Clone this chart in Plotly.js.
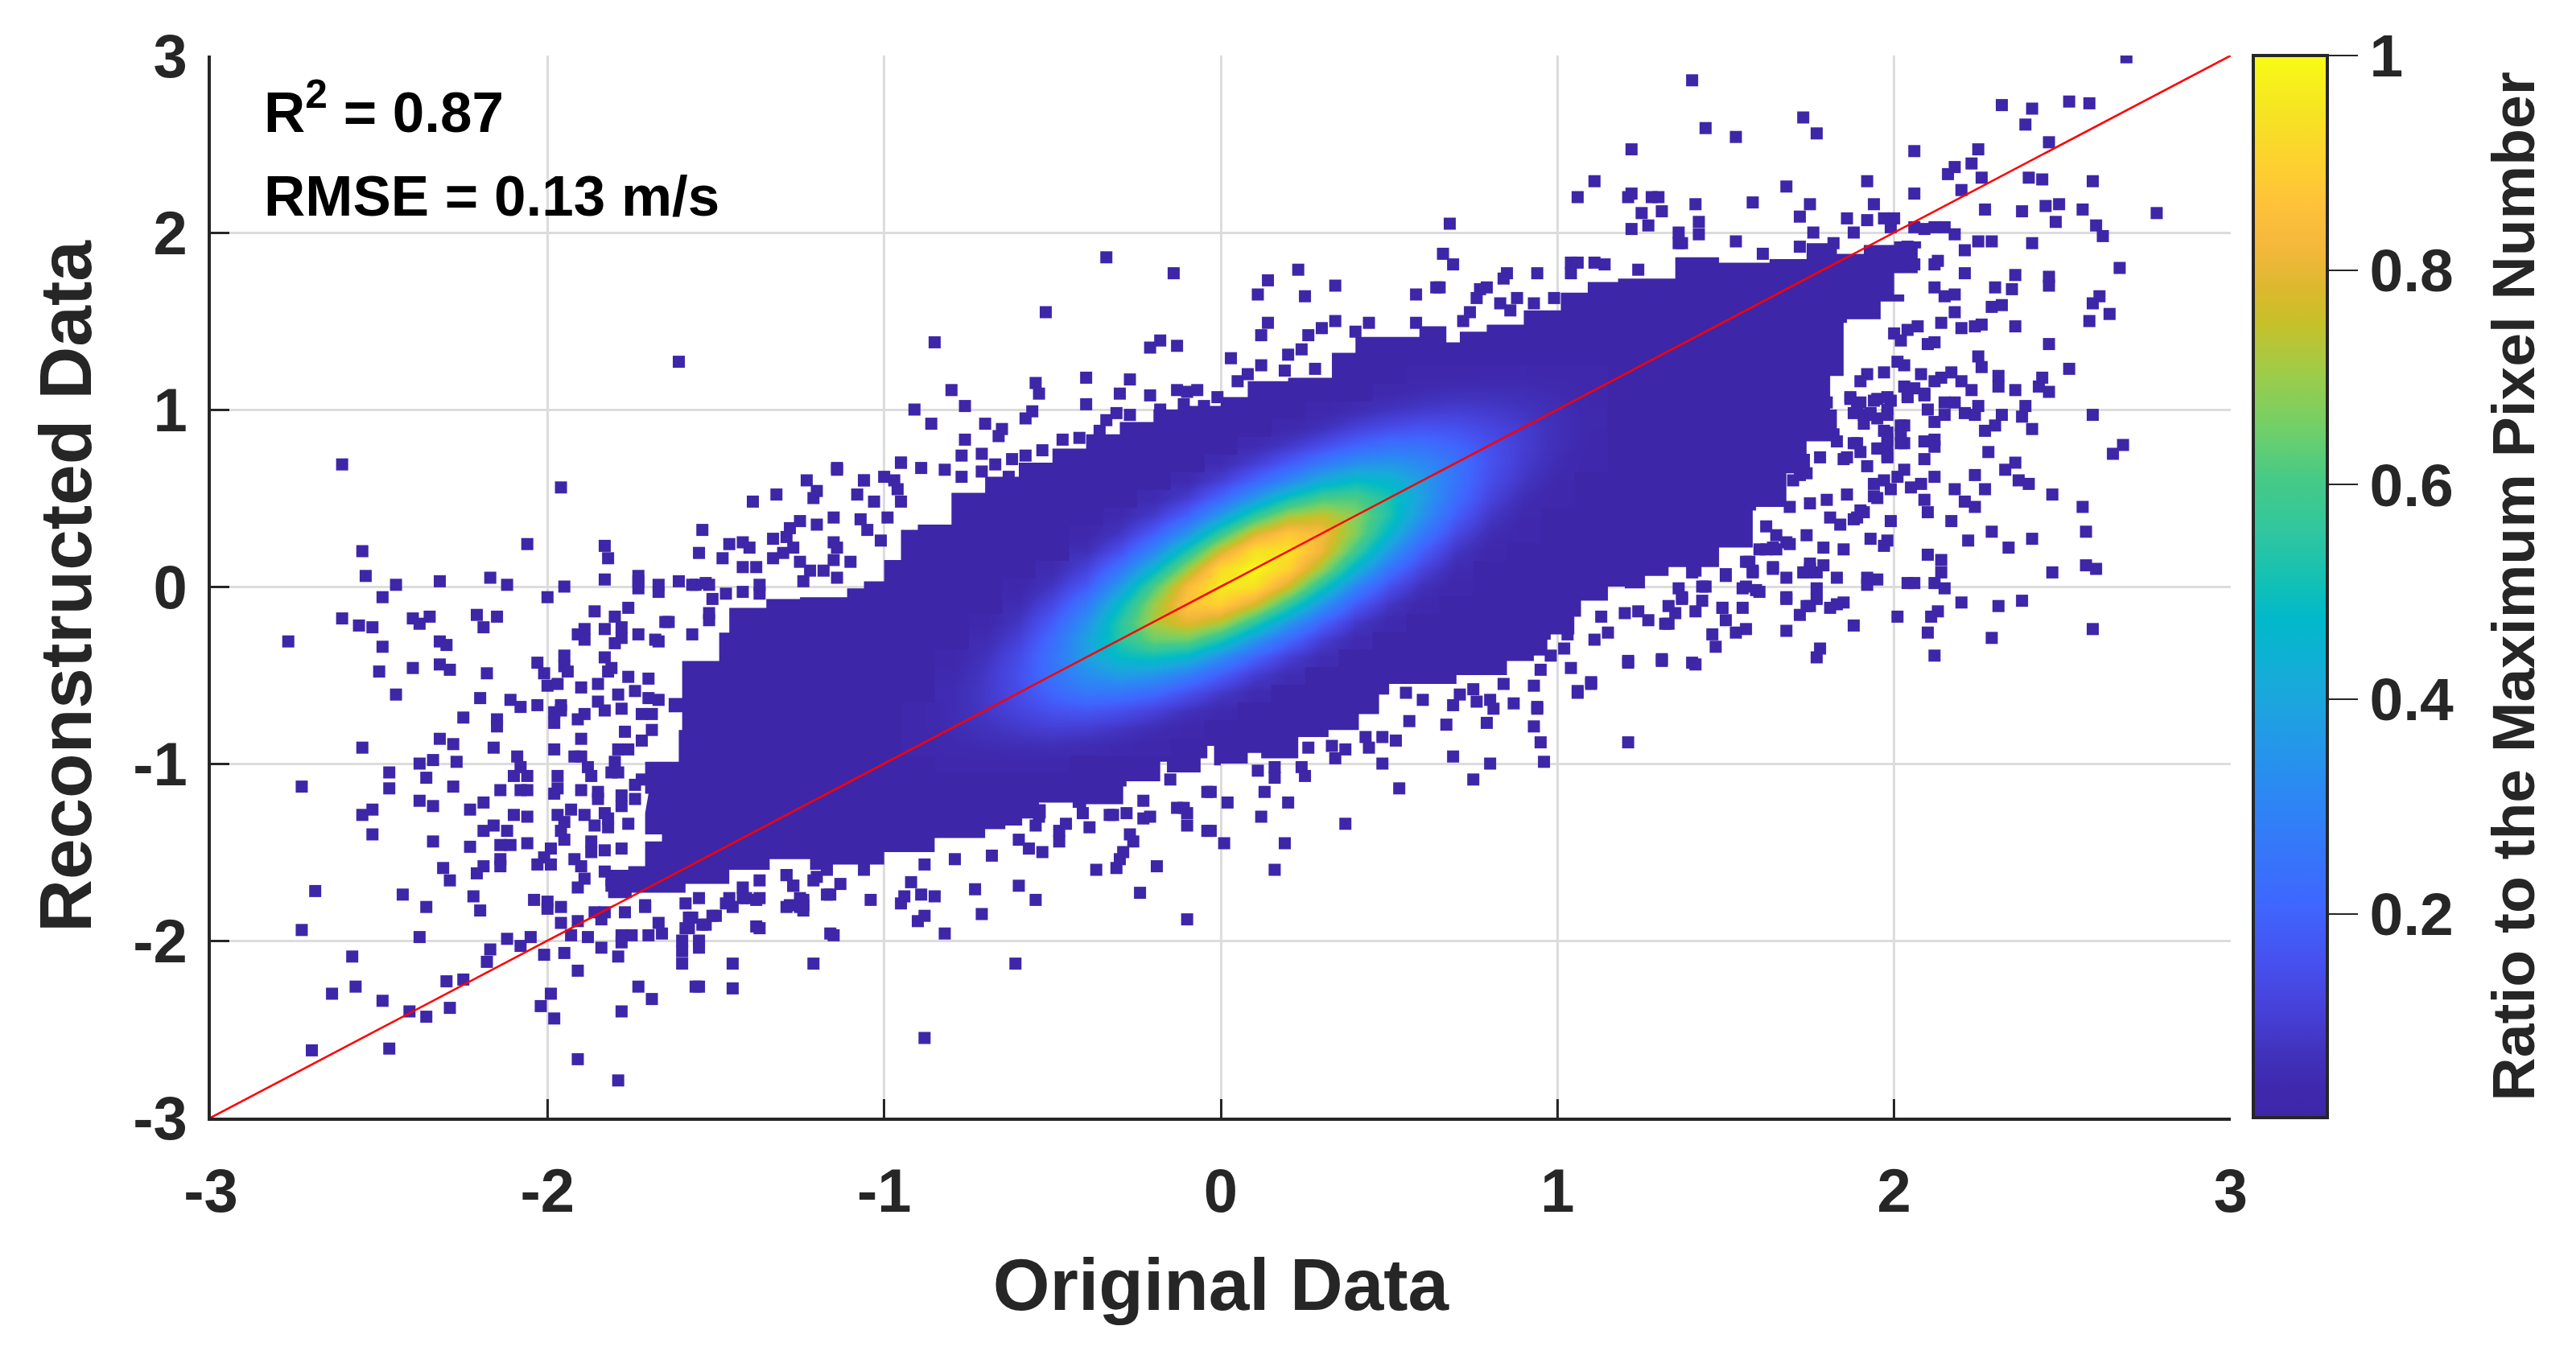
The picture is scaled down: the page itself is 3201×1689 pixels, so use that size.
<!DOCTYPE html>
<html><head><meta charset="utf-8">
<script src="https://cdn.plot.ly/plotly-3.0.1.min.js"></script>
<style>html,body{margin:0;padding:0;background:#fff}</style></head>
<body><div id="chart" style="width:3201px;height:1689px"></div>
<script>
const _ = null;
const axisTicks = [-3,-2,-1,0,1,2,3];
const axisTickText = ["-3","-2","-1","0","1","2","3"];
const colorbarTicks = [0.2,0.4,0.6,0.8,1];
const colorbarTickText = ["0.2","0.4","0.6","0.8","1"];
const oneToOneLine = [-3,3];

// Density, one column per x, bottom to top in y.
const densityX = [-0.9,-0.8,-0.7,-0.6,-0.5,-0.4,-0.3,-0.2,-0.1,0,0.1,0.2,0.3,0.4,0.5,0.6,0.7,0.8,0.9,1.0,1.1];
const densityY = [-1.0,-0.9,-0.8,-0.7,-0.6,-0.5,-0.4,-0.3,-0.2,-0.1,0,0.1,0.2,0.3,0.4,0.5,0.6,0.7,0.8,0.9,1.0,1.1,1.2];
const densityColumns = [
[_,.03,.03,.03,_,_,_,_,_,_,_,_,_,_,_,_,_,_,_,_,_,_,_],
[.03,.04,.05,.05,.05,.04,.03,_,_,_,_,_,_,_,_,_,_,_,_,_,_,_,_],
[.03,.05,.07,.085,.09,.085,.07,.05,.03,_,_,_,_,_,_,_,_,_,_,_,_,_,_],
[.03,.055,.09,.12,.14,.15,.14,.11,.08,.05,.03,_,_,_,_,_,_,_,_,_,_,_,_],
[.03,.06,.105,.155,.21,.245,.25,.23,.185,.13,.08,.045,_,_,_,_,_,_,_,_,_,_,_],
[_,.05,.10,.17,.26,.33,.38,.385,.34,.27,.18,.115,.06,.03,_,_,_,_,_,_,_,_,_],
[_,.04,.08,.15,.255,.37,.48,.545,.545,.48,.37,.255,.15,.08,.04,_,_,_,_,_,_,_,_],
[_,.025,.055,.115,.22,.35,.50,.645,.72,.70,.61,.46,.31,.185,.095,.045,_,_,_,_,_,_,_],
[_,_,.03,.07,.155,.28,.455,.645,.80,.875,.84,.70,.53,.35,.20,.10,.045,_,_,_,_,_,_],
[_,_,_,.04,.09,.185,.33,.53,.735,.90,.97,.925,.77,.57,.37,.21,.105,.047,_,_,_,_,_],
[_,_,_,_,.044,.10,.20,.36,.56,.775,.94,1,.94,.775,.56,.36,.20,.10,.044,_,_,_,_],
[_,_,_,_,_,.05,.105,.215,.37,.57,.765,.905,.95,.875,.71,.505,.31,.175,.085,.035,_,_,_],
[_,_,_,_,_,_,.048,.105,.205,.35,.525,.70,.81,.835,.755,.60,.42,.26,.14,.065,.028,_,_],
[_,_,_,_,_,_,_,.043,.09,.18,.30,.45,.585,.67,.68,.61,.48,.33,.20,.11,.05,_,_],
[_,_,_,_,_,_,_,_,.037,.08,.15,.25,.36,.46,.525,.52,.455,.35,.24,.14,.075,.035,_],
[_,_,_,_,_,_,_,_,_,.03,.065,.12,.19,.27,.345,.38,.37,.315,.24,.16,.09,.05,.025],
[_,_,_,_,_,_,_,_,_,_,.025,.045,.08,.13,.185,.23,.25,.245,.205,.15,.10,.06,.03],
[_,_,_,_,_,_,_,_,_,_,_,_,.03,.055,.085,.12,.145,.157,.15,.125,.09,.06,.033],
[_,_,_,_,_,_,_,_,_,_,_,_,_,.025,.035,.055,.08,.095,.10,.095,.075,.055,.035],
[_,_,_,_,_,_,_,_,_,_,_,_,_,_,_,.025,.035,.05,.06,.06,.055,.045,.03],
[_,_,_,_,_,_,_,_,_,_,_,_,_,_,_,_,_,.025,.03,.035,.035,.03,.03]
];

// Outline of the solid mass of points.
const massOutlineUpper = [[-1.70,-1.17],[-1.71,-.99],[-1.61,-.81],[-1.6,-.71],[-1.64,-.63],[-1.6,-.42],[-1.49,-.26],[-1.46,-.12],[-1.35,-.07],[-1.25,-.06],[-1.11,-.01],[-1.06,.03],[-1,.15],[-.95,.32],[-.9,.35],[-.8,.53],[-.7,.62],[-.6,.7],[-.5,.78],[-.4,.86],[-.3,.93],[-.2,1.0],[-.1,1.02],[0,1.07],[.08,1.16],[.2,1.18],[.33,1.32],[.4,1.41],[.55,1.41],[.59,1.47],[.67,1.38],[.71,1.44],[.79,1.48],[.9,1.56],[1.01,1.66],[1.09,1.72],[1.18,1.74],[1.35,1.86],[1.48,1.83],[1.63,1.85],[1.74,1.94],[1.83,1.88],[1.91,1.93],[2.0,1.95],[2.08,1.91]];
const massOutlineRight = [[2.07,1.77],[2.0,1.65],[2.03,1.61],[1.96,1.51],[1.86,1.49],[1.85,1.33],[1.85,1.19],[1.81,1.0],[1.83,.82],[1.74,.75],[1.75,.64],[1.68,.57],[1.68,.45],[1.59,.43],[1.58,.22],[1.49,.22],[1.48,.11],[1.38,.11],[1.33,.06],[1.26,-.01],[1.2,0],[1.15,-.08],[1.07,-.17],[1.05,-.27],[.98,-.3],[.97,-.39],[.93,-.42],[.85,-.5],[.7,-.55],[.55,-.55]];
const massOutlineLower = [[.5,-.61],[.47,-.72],[.41,-.81],[.32,-.85],[.23,-.97],[.12,-.94],[.08,-1.0],[0,-1.01],[-.02,-.9],[-.04,-.97],[-.06,-1.05],[-.16,-.99],[-.18,-1.1],[-.28,-1.13],[-.29,-1.23],[-.4,-1.25],[-.44,-1.22],[-.54,-1.23],[-.52,-1.31],[-.59,-1.35],[-.64,-1.37],[-.7,-1.42],[-.85,-1.5],[-1,-1.57],[-1.17,-1.6],[-1.22,-1.54],[-1.34,-1.6],[-1.46,-1.68],[-1.59,-1.73],[-1.75,-1.76],[-1.82,-1.6],[-1.76,-1.58],[-1.71,-1.44],[-1.66,-1.4],[-1.71,-1.28]];

// Single points outside the solid mass.
const pointsLowerLeft = [[-2.54,.06],[-2.45,.01],[-2.32,.03],[-2.17,.05],[-2.12,.01],[-2.49,-.06],[-2.0,-.06],[-1.95,0],[-1.83,.04],[-1.73,.03],[-1.73,.06],[-1.73,-.01],[-1.67,.01],[-1.67,-.03],[-1.61,.03],[-1.57,.01],[-1.53,.02],[-2.61,-.18],[-2.56,-.22],[-2.52,-.23],[-2.40,-.18],[-2.35,-.17],[-2.38,-.21],[-2.21,-.16],[-2.15,-.17],[-2.19,-.23],[-2.77,-.31],[-2.49,-.34],[-2.32,-.31],[-2.30,-.33],[-2.50,-.48],[-2.40,-.46],[-2.32,-.44],[-2.29,-.47],[-2.18,-.49],[-2.45,-.61],[-2.2,-.63],[-2.11,-.64],[-2.08,-.68],[-2.03,-.67],[-2.25,-.74],[-2.15,-.75],[-2.15,-.79],[-2.32,-.86],[-2.28,-.89],[-2.16,-.91],[-2.55,-.91],[-1.98,-.92],[-1.90,-.86],[-2.34,-.98],[-2.38,-1.0],[-2.27,-.99],[-2.47,-1.05],[-2.36,-1.08],[-2.73,-1.13],[-2.47,-1.14],[-2.28,-1.13],[-2.38,-1.21],[-2.34,-1.24],[-2.19,-1.22],[-2.23,-1.26],[-2.14,-1.15],[-2.52,-1.26],[-2.55,-1.29],[-2.10,-1.29],[-2.06,-1.30],[-2.52,-1.40],[-2.16,-1.35],[-2.19,-1.38],[-2.12,-1.38],[-2.34,-1.44],[-2.23,-1.47],[-2.06,-1.45],[-2.14,-1.46],[-2.11,-1.46],[-2.14,-1.54],[-2.14,-1.58],[-2.31,-1.59],[-2.29,-1.66],[-2.19,-1.58],[-2.21,-1.62],[-2.69,-1.72],[-2.43,-1.74],[-2.36,-1.81],[-2.22,-1.75],[-2.2,-1.83],[-2.04,-1.77],[-2.0,-1.78],[-2.73,-1.94],[-2.38,-1.98],[-2.12,-1.99],[-2.08,-2.03],[-2.05,-1.98],[-2.58,-2.09],[-2.17,-2.05],[-2.18,-2.12],[-2.01,-2.08],[-1.95,-2.07],[-1.79,-2.09],[-1.91,-2.17],[-2.57,-2.26],[-2.64,-2.3],[-2.3,-2.23],[-2.25,-2.22],[-2.49,-2.34],[-2.41,-2.4],[-2.36,-2.43],[-2.29,-2.38],[-1.99,-2.3],[-2.02,-2.37],[-1.98,-2.44],[-1.78,-2.4],[-1.73,-2.26],[-1.69,-2.33],[-1.55,-2.26],[-1.45,-2.27],[-1.6,-2.13],[-1.45,-2.13],[-1.21,-2.13],[-2.7,-2.62],[-2.47,-2.61],[-1.91,-2.67],[-1.79,-2.79],[-1.37,-1.93],[-1.15,-1.97],[-1.16,-1.74],[-.88,-2.55]];
const pointsLeftEdge = [[-2,-1.82],[-1.96,-1.81],[-1.96,-1.9],[-1.91,-1.89],[-1.93,-1.97],[-1.88,-1.98],[-1.84,-2.04],[-1.86,-1.84],[-1.83,-1.84],[-1.84,-1.88],[-1.78,-2.01],[-1.75,-1.97],[-1.78,-1.97],[-1.77,-1.84],[-1.7,-1.97],[-1.67,-1.9],[-1.66,-1.96],[-1.6,-2.0],[-1.6,-2.06],[-1.55,-2.0],[-1.55,-2.04],[-1.57,-1.87],[-1.58,-1.93],[-1.53,-1.91],[-1.5,-1.86],[-1.71,-1.8],[-1.45,-1.81],[-1.46,-1.76],[-1.41,-1.76],[-1.37,-1.76],[-1.28,-1.8],[-1.24,-1.8],[-1.24,-1.83],[-1.24,-1.77],[-1.27,-1.69],[-1.29,-1.63],[-1.2,-1.64],[-2.09,-.96],[-2.08,-1.02],[-2.10,-1.07],[-2.06,-1.07],[-2.08,-1.15],[-2.06,-1.15],[-1.97,-1.07],[-1.98,-1.17],[-1.97,-1.14],[-1.92,-.96],[-1.9,-.96],[-1.88,-1.02],[-1.87,-1.07],[-1.9,-1.15],[-1.85,-1.16],[-1.85,-1.2],[-1.79,-1.05],[-1.81,-1.05],[-1.8,-.99],[-1.78,-1.18],[-1.78,-1.24],[-1.74,-1.12],[-1.74,-1.2],[-1.72,-1.09],[-1.97,-1.29],[-1.93,-1.26],[-1.89,-1.29],[-1.95,-1.33],[-1.96,-1.38],[-1.95,-1.43],[-1.86,-1.35],[-1.82,-1.36],[-1.83,-1.28],[-1.82,-1.31],[-1.76,-1.34],[-1.87,-1.44],[-1.87,-1.5],[-1.83,-1.49],[-1.78,-1.48],[-1.99,-1.48],[-2.01,-1.53],[-2.03,-1.57],[-1.99,-1.57],[-1.92,-1.54],[-1.9,-1.58],[-1.83,-1.61],[-1.81,-1.66],[-1.79,-1.72],[-1.81,-1.69],[-1.89,-1.65],[-1.91,-1.7],[-1.86,-.14],[-1.8,-.17],[-1.76,-.12],[-1.64,-.2],[-1.89,-.24],[-1.91,-.27],[-1.89,-.3],[-1.83,-.24],[-1.78,-.23],[-1.78,-.29],[-1.73,-.27],[-1.8,-.32],[-1.67,-.31],[-1.95,-.39],[-1.95,-.45],[-1.94,-.48],[-2.03,-.43],[-2.01,-.49],[-2.0,-.56],[-1.97,-.55],[-1.83,-.4],[-1.81,-.46],[-1.82,-.48],[-1.76,-.51],[-1.7,-.52],[-1.9,-.57],[-1.85,-.55],[-1.79,-.61],[-1.74,-.59],[-1.7,-.63],[-1.67,-.64],[-1.96,-.67],[-1.98,-.71],[-1.98,-.77],[-1.96,-.7],[-1.89,-.72],[-1.91,-.75],[-1.85,-.65],[-1.83,-.7],[-1.78,-.69],[-1.72,-.72],[-1.69,-.72],[-1.77,-.82],[-1.72,-.87],[-1.69,-.81],[-1.79,-.92],[-1.76,-.92],[-1.57,-.27],[-1.52,-.19],[-1.52,-.15],[-1.65,-.2],[-1.68,-.3]];
const pointsUpperLeft = [[-2.61,.69],[-1.61,1.27],[-1.96,.56],[-2.55,.20],[-2.06,.24],[-1.83,.23],[-1.82,.16],[-1.54,.32],[-1.55,.19],[-1.46,.24],[-1.48,.16],[-1.42,.25],[-1.4,.22],[-1.33,.27],[-1.3,.19],[-1.33,.16],[-1.42,.11],[-1.38,.11],[-1.39,.48],[-1.32,.52],[-1.23,.6],[-1.2,.54],[-1.21,.5],[-1.14,.67],[-1.06,.6],[-1.08,.52],[-1.03,.48],[-.95,.7],[-1,.62],[-.97,.6],[-.96,.55],[-.95,.48],[-1.25,.37],[-1.2,.35],[-1.15,.39],[-1.28,.33],[-1.29,.28],[-1.27,.22],[-1.07,.38],[-1.05,.32],[-1.01,.26],[-.99,.39],[-1.15,.25],[-1.14,.22],[-1.15,.15],[-1.25,.14],[-1.22,.09],[-1.24,.03],[-1.1,.14],[-1.18,.09],[-1.14,.05],[-1.37,.01],[-1.37,-.04],[-1.42,-.03],[-1.47,-.04],[-1.51,-.07],[-1.52,.01],[-1.56,.01],[-.34,1.86],[-.14,1.77],[-.52,1.55],[-.85,1.38],[-.18,1.39],[-.21,1.35],[-.13,1.36],[.23,1.79],[.14,1.73],[.11,1.65],[.25,1.64],[.34,1.7],[.58,1.65],[.64,1.69],[.14,1.49],[.12,1.42],[.34,1.5],[.3,1.46],[.26,1.42],[.44,1.49],[.58,1.49],[.4,1.44],[.24,1.34],[.2,1.31],[.03,1.29],[.12,1.25],[.28,1.23],[.19,1.22],[.08,1.2],[.05,1.16],[-.4,1.18],[-.27,1.17],[-.55,1.15],[-.54,1.09],[-.8,1.11],[-.3,1.09],[-.21,1.08],[-.13,1.11],[-.1,1.1],[-.07,1.11],[-.01,1.07],[-.91,1],[-.76,1.02],[-.4,1.03],[-.56,.99],[-.58,.95],[-.86,.92],[-.7,.92],[-.65,.89],[-.66,.85],[-.76,.83],[-.77,.74],[-.71,.75],[-.95,.7],[-.89,.67],[-.82,.66],[-1.14,.66],[-1.06,.6],[-.77,.62],[-.67,.69],[-.71,.65],[-.62,.72],[-.58,.74],[-.53,.77],[-.52,.65],[-.63,.62],[-.18,1],[-.11,1.03],[-.05,1.02],[-.31,.98],[-.27,.97],[-.34,.94],[-.36,.88],[-.25,.88],[-.47,.83],[-.42,.84]];
const pointsUpperMiddle = [[1.11,2.29],[1.06,2.2],[.68,2.05],[.66,1.88],[.69,1.82],[.65,1.69],[.94,1.77],[.85,1.77],[.84,1.74],[1.04,1.83],[1.06,1.83],[1.04,1.77],[1.11,1.83],[1.14,1.82],[.79,1.69],[.77,1.68],[.76,1.63],[.83,1.6],[.88,1.63],[.86,1.56],[.93,1.6],[.99,1.63],[.74,1.55],[.72,1.5],[1.24,1.79],[1.36,1.94]];
const pointsUpperRight = [[1.40,2.86],[1.44,2.59],[1.53,2.54],[1.22,2.47],[1.73,2.65],[1.77,2.56],[2.69,2.99],[2.32,2.72],[2.41,2.70],[2.52,2.74],[2.58,2.73],[2.39,2.61],[2.46,2.51],[2.06,2.46],[2.25,2.47],[2.23,2.39],[2.18,2.37],[2.16,2.33],[2.26,2.31],[2.4,2.31],[2.44,2.3],[2.59,2.29],[1.92,2.29],[1.68,2.26],[2.06,2.22],[2.2,2.24],[1.22,2.22],[1.21,2.2],[1.28,2.2],[1.3,2.2],[1.58,2.17],[1.41,2.16],[1.75,2.16],[1.94,2.16],[1.31,2.12],[1.25,2.11],[2.27,2.13],[2.38,2.12],[2.45,2.15],[2.49,2.16],[2.56,2.13],[2.78,2.11],[1.72,2.09],[1.86,2.08],[1.92,2.07],[1.97,2.08],[2,2.08],[1.42,2.06],[2.48,2.06],[1.27,2.04],[1.22,2.02],[1.36,2.0],[1.42,1.99],[1.88,2.0],[1.76,2.0],[1.99,2.03],[2.06,2.03],[2.09,2.02],[2.12,2.03],[2.15,2.03],[2.18,1.99],[2.6,2.04],[2.62,1.98],[1.37,1.94],[1.53,1.95],[2.25,1.95],[2.29,1.95],[2.41,1.94],[2.21,1.9],[1.82,1.94],[1.72,1.92],[1.61,1.88],[2.04,1.92],[2.05,1.9],[2.06,1.82],[2.12,1.82],[2.13,1.84],[2.67,1.8],[2.21,1.77],[2.36,1.76],[2.3,1.69],[2.35,1.68],[2.46,1.75],[2.46,1.7],[2.12,1.69],[2.15,1.64],[2.18,1.65],[2.61,1.64],[2.59,1.6],[2.64,1.54],[2.58,1.5],[2.32,1.59],[2.29,1.58],[2.36,1.47],[2.18,1.55],[2.14,1.49],[2.2,1.46],[2.26,1.48],[2.24,1.47],[2.07,1.47],[2.04,1.45],[2,1.43],[2.02,1.39],[2.12,1.38],[2.1,1.37],[2.46,1.37],[2.25,1.3],[2.26,1.24],[2.52,1.23]];
const pointsRightMiddle = [[2.31,1.19],[2.31,1.13],[2.44,1.18],[2.43,1.13],[2.46,1.1],[2.36,1.11],[2.23,1.11],[2.17,1.21],[2.14,1.18],[2.2,1.16],[2.08,1.2],[2.12,1.16],[2.01,1.27],[2.03,1.25],[1.97,1.21],[1.92,1.2],[1.9,1.16],[2.03,1.13],[2.06,1.12],[2.09,1.09],[2.04,1.08],[1.95,1.06],[1.87,1.06],[1.9,1.04],[1.99,1.05],[1.98,1.0],[2.15,1.04],[2.18,1.04],[2.1,1],[2.12,.93],[2.25,1.02],[2.24,.97],[2.21,.98],[2.15,.97],[2.39,1.02],[2.38,.96],[2.32,.97],[2.3,.91],[2.27,.88],[2.41,.89],[2.59,.97],[1.91,.97],[1.93,.98],[1.95,.95],[2.02,.91],[2.02,.81],[1.98,.87],[1.98,.8],[1.88,.81],[1.9,.76],[1.96,.78],[1.98,.74],[1.86,.73],[2.09,.82],[2.12,.83],[2.12,.79],[2.09,.72],[2.28,.76],[2.68,.8],[2.65,.75],[1.92,.68],[2.36,.7],[2.33,.66],[2.03,.66],[2.01,.62],[2.12,.62],[2.24,.63],[2.37,.6],[2.4,.58],[2.27,.55],[1.97,.6],[1.94,.58],[1.99,.55],[2.08,.58],[2.05,.56],[2.18,.55],[2.21,.48],[2.24,.45],[2.47,.52],[2.56,.45],[1.86,.52],[1.94,.51],[1.8,.49],[2.09,.49],[2.1,.42],[1.9,.43],[1.88,.38],[1.81,.39],[1.84,.35],[1.99,.37],[2.17,.37],[2.29,.31],[2.57,.31],[2.22,.26],[2.41,.27],[2.34,.22],[1.93,.27],[1.98,.26],[1.97,.23],[1.79,.22],[1.85,.21],[1.74,.29],[2.1,.18],[2.14,.15],[2.14,.08],[2.47,.08],[2.57,.12],[2.6,.1],[1.75,.13],[1.79,.12],[1.74,.08],[1.77,.08],[1.64,.1],[1.68,.05],[1.83,.05],[1.92,.05],[1.95,.04],[1.92,.01],[2.04,.02],[2.06,.02],[2.12,.02],[2.15,-.01]];
const pointsRightLower = [[1.77,-.01],[1.77,-.07],[1.75,-.11],[1.85,-.09],[1.81,-.12],[1.68,-.07],[1.6,-.03],[1.55,-.01],[2.2,-.09],[2.31,-.11],[2.38,-.08],[1.72,-.16],[2.01,-.17],[2.13,-.14],[2.11,-.17],[1.88,-.22],[1.68,-.25],[2.1,-.26],[2.59,-.24],[2.29,-.29],[1.56,-.24],[1.53,-.26],[1.5,-.19],[1.55,-.12],[1.49,-.12],[1.46,-.27],[1.47,-.34],[1.78,-.35],[1.77,-.4],[2.12,-.39],[1.21,-.43],[1.31,-.42],[1.4,-.43],[1.41,-.44],[1.43,-.08],[1.41,-.14],[1.33,-.21],[1.35,-.15],[1.33,-.11],[1.27,-.19],[1.24,-.14],[1.2,-.15],[1.37,-.07],[1.36,-.01],[1.44,0],[1.4,.08],[1.5,.06],[1.57,.14],[1.58,.09],[1.65,.21],[1.6,.21],[1.68,.25],[1.62,.34],[1.65,.29],[1.8,1.04],[1.87,1.07],[1.89,1.03],[1.94,1.05],[1.98,1.07],[2.04,1.07],[2.09,1.08],[1.88,.98],[1.93,.97],[1.98,.97],[1.91,.92],[1.97,.88],[2.03,.91],[2.02,.86],[1.98,.83],[1.89,.81],[1.95,.78],[1.98,.73],[2.03,.81],[1.85,.72],[1.78,.73],[1.83,.82],[1.82,.86],[1.8,.89],[1.72,.63],[1.74,.64],[1.7,.6],[1.75,.47],[1.69,.45],[1.95,.5],[1.89,.39],[1.91,.42],[1.69,.24],[1.62,.21],[1.64,.22],[1.56,.14],[1.64,.11],[1.75,.1],[1.73,.08],[1.58,.08],[1.56,0],[1.59,-.02],[1.5,.07],[1.41,.09],[1.43,0],[1.77,-.02],[1.77,-.06],[1.74,-.11],[1.83,-.1],[1.68,-.06],[1.49,-.12],[1.37,-.06],[1.32,-.21],[1.13,-.17],[1.15,-.26],[1.11,-.3],[1.02,-.21],[1.03,-.27],[.95,-.29],[1.02,-.35],[.98,-.39],[.95,-.47],[1.04,-.46],[1.1,-.54],[1.06,-.59],[.93,-.56],[.94,-.68],[1.21,-.42],[1.31,-.41]];
const pointsLowerMiddle = [[-.1,-1.88],[-.24,-1.73],[-.6,-1.69],[-.55,-1.77],[-.37,-1.6],[-.31,-1.59],[-.19,-1.58],[.16,-1.6],[.19,-1.45],[.01,-1.45],[.37,-1.34],[-.04,-1.38],[-.1,-1.35],[.12,-1.3],[.2,-1.22],[.02,-1.22],[-.04,-1.16],[.13,-1.16],[.53,-1.14],[.75,-1.09],[.48,-1],[.69,-.96],[.8,-1],[.96,-.99],[.95,-.88],[.93,-.79],[1.21,-.88],[.52,-.87],[.48,-.85],[.56,-.76],[.67,-.78],[.79,-.77],[.87,-.66],[.94,-.69],[1.06,-.6],[1.1,-.55],[.84,-.55],[-.13,-1.25],[-.1,-1.28],[-.23,-1.21],[-.15,-1.09],[-.21,-1.3],[-.27,-1.4],[-.26,-1.44],[-.29,-1.5],[-.3,-1.54],[.11,-1.04],[.16,-1.08],[.25,-1.07],[.16,-1.02],[.34,-.97],[.37,-.92],[.33,-.9],[.44,-.91],[.43,-.85],[.26,-.91],[.24,-1.02],[-.53,-1.5],[-.57,-1.48],[-.6,-1.43],[-.48,-1.44],[-.48,-1.38],[-.46,-1.34],[-.39,-1.36],[-.33,-1.29],[-.28,-1.28],[-.41,-1.28],[-.55,-1.35],[-.54,-1.3],[.55,-.6],[.6,-.64],[.69,-.67],[.71,-.61],[.76,-.65],[.75,-.58],[.8,-.64],[.81,-.69]];
const pointsLowerEdge = [[-1.56,-2.26],[-1.38,-1.92],[-1.16,-1.96],[-.82,-1.96],[-.9,-1.89],[-.88,-1.86],[-.71,-1.85],[-.73,-1.71],[-1.04,-1.77],[-1.17,-1.74],[-1.13,-1.68],[-.89,-1.74],[-.85,-1.75],[-.92,-1.67],[-.94,-1.75],[-.95,-1.79],[-1.25,-1.81],[-1.29,-1.81],[-1.25,-1.76],[-1.38,-1.77],[-1.42,-1.76],[-1.47,-1.79],[-1.55,-1.76],[-1.59,-1.79],[-1.71,-1.81],[-1.51,-1.86],[-1.58,-1.87],[-1.54,-1.91],[-1.59,-1.93],[-1.29,-1.63],[-1.27,-1.69],[-1.21,-1.66],[-1.37,-1.66],[-1.42,-1.7],[-1.06,-1.6],[-1.17,-1.6],[-.88,-1.57],[-.79,-1.54],[-.68,-1.52],[-.32,-1.29],[-.23,-1.31],[-.11,-1.25],[-.03,-1.38],[-.03,-1.16],[-.61,-2.13]];

const parulaStops = [[0,"#3e26a8"],[0.03,"#3f29ae"],[0.06,"#4132bc"],[0.1,"#4640d8"],[0.15,"#4652f0"],[0.2,"#3f66fe"],[0.3,"#2d86f5"],[0.4,"#1aa8dc"],[0.47,"#02b9ca"],[0.5,"#10bfb8"],[0.55,"#2fc6a0"],[0.6,"#45ca87"],[0.65,"#72cf68"],[0.7,"#9dcc49"],[0.75,"#c8c029"],[0.78,"#dcb82e"],[0.82,"#f4b83c"],[0.86,"#fec23a"],[0.9,"#fdd12f"],[0.95,"#f5e522"],[1,"#f9fb15"]];

const baseColor = "#3e26a8", ink = "#262626", gridColor = "#dcdcdc", family = "'Liberation Sans', Arial, sans-serif";
const allPoints = [].concat(pointsLowerLeft, pointsLeftEdge, pointsUpperLeft, pointsUpperMiddle, pointsUpperRight, pointsRightMiddle, pointsRightLower, pointsLowerMiddle, pointsLowerEdge);
const outline = [].concat(massOutlineUpper, massOutlineRight, massOutlineLower);
// stepped edge, so the outline has the blocky look of the pixels it stands for
const outlinePath = "M" + outline[0].join(",") + outline.slice(1).map((q,i) => "L" + q[0] + "," + outline[i][1] + "L" + q[0] + "," + q[1]).join("") + "Z";

const traces = [
  {type:"heatmap", x:densityX, y:densityY, z:densityColumns, transpose:true, zsmooth:"best", zmin:0.01, zmax:1,
   colorscale:parulaStops, hoverinfo:"skip",
   colorbar:{x:1.0112, xanchor:"left", xpad:0, y:0.5, yanchor:"middle", len:1, lenmode:"fraction", ypad:0, thickness:92, thicknessmode:"pixels",
     outlinecolor:ink, outlinewidth:4, tickmode:"array", tickvals:colorbarTicks, ticktext:colorbarTickText, ticks:"outside", ticklen:36, tickwidth:2, tickcolor:ink,
     tickfont:{family:family, size:75, color:ink, weight:700}}},
  {type:"scatter", mode:"markers", x:allPoints.map(p=>p[0]), y:allPoints.map(p=>p[1]),
   marker:{symbol:"square", size:15, color:baseColor, line:{width:0}}, hoverinfo:"skip", showlegend:false},
  {type:"scatter", mode:"lines", x:oneToOneLine, y:oneToOneLine, line:{color:"#ff0000", width:2.5}, hoverinfo:"skip", showlegend:false, cliponaxis:false}
];

const axisCommon = {range:[-3,3], autorange:false, tickmode:"array", tickvals:axisTicks, ticktext:axisTickText,
  ticks:"inside", ticklen:23, tickwidth:3, tickcolor:ink, showline:true, linecolor:ink, linewidth:4, mirror:false,
  showgrid:true, gridcolor:gridColor, gridwidth:3, zeroline:false, automargin:false,
  tickfont:{family:family, size:76, color:ink, weight:700}};

const layout = {
  width:3201, height:1689, paper_bgcolor:"#fff", plot_bgcolor:"#fff", showlegend:false,
  margin:{l:262, r:429, t:69, b:300, pad:0},
  xaxis:Object.assign({}, axisCommon, {ticklabelstandoff:22, title:{text:"Original Data", font:{family:family, size:91, color:ink, weight:700}, standoff:44}}),
  yaxis:Object.assign({}, axisCommon, {ticklabelstandoff:10, title:{text:"Reconstructed Data", font:{family:family, size:91, color:ink, weight:700}, standoff:22}}),
  shapes:[{type:"path", path:outlinePath, xref:"x", yref:"y", fillcolor:baseColor, line:{width:0}, layer:"between"}],
  annotations:[
    {xref:"paper", yref:"paper", x:0.0255, y:0.951, xanchor:"left", yanchor:"middle", showarrow:false, align:"left", text:"R<sup>2</sup> = 0.87", font:{family:family, size:71, color:"#000", weight:700}},
    {xref:"paper", yref:"paper", x:0.0255, y:0.868, xanchor:"left", yanchor:"middle", showarrow:false, align:"left", text:"RMSE = 0.13 m/s", font:{family:family, size:71, color:"#000", weight:700}},
    {xref:"paper", yref:"paper", x:1.140, y:0.5, xanchor:"center", yanchor:"middle", textangle:-90, showarrow:false, text:"Ratio to the Maximum Pixel Number", font:{family:family, size:75, color:ink, weight:700}}
  ]
};
Plotly.newPlot("chart", traces, layout, {displayModeBar:false, staticPlot:true});
</script></body></html>
